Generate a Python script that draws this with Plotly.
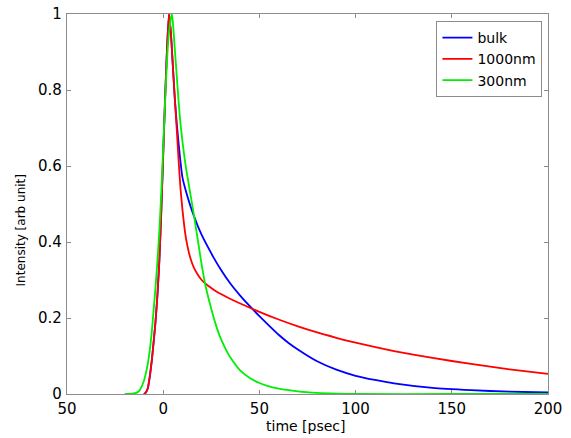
import plotly.graph_objects as go

# time [psec] and normalised intensity
bulk_t = [-10, -9, -8, -7, -6, -5, -4, -3, -2, -1, 0, 1, 2, 3, 4, 5, 6, 7, 8, 9,
          10, 12, 14, 16, 18, 20, 23, 26, 30, 35, 40, 45, 50, 55, 60, 65, 70, 80, 90, 100,
          110, 120, 140, 160, 180, 200]
bulk_i = [0, 0.004, 0.015, 0.045, 0.085, 0.135, 0.19, 0.26, 0.35, 0.48,
          0.63, 0.78, 0.91, 1.0, 0.95, 0.865, 0.78, 0.715, 0.66, 0.61,
          0.57, 0.53, 0.497, 0.468, 0.442, 0.419, 0.389, 0.361, 0.327, 0.29,
          0.259, 0.231, 0.205, 0.18, 0.156, 0.135, 0.117, 0.086, 0.064, 0.048,
          0.037, 0.028, 0.016, 0.01, 0.006, 0.004]

red_t = [-10, -9, -8, -7, -6, -5, -4, -3, -2, -1, 0, 1, 2, 3, 4, 5, 6, 7, 8, 9,
         10, 11, 12, 14, 16, 18, 20, 23, 27, 30, 35, 40, 45, 50, 60, 70, 80, 90, 100, 120,
         140, 160, 180, 200]
red_i = [0, 0.004, 0.015, 0.045, 0.085, 0.135, 0.19, 0.26, 0.35, 0.48,
         0.63, 0.78, 0.91, 1.0, 0.95, 0.865, 0.78, 0.70, 0.615, 0.54,
         0.485, 0.44, 0.405, 0.36, 0.332, 0.314, 0.30, 0.286, 0.272, 0.263,
         0.25, 0.238, 0.227, 0.216, 0.196, 0.178, 0.162, 0.148, 0.135, 0.113,
         0.095, 0.079, 0.065, 0.053]

green_t = [-20, -16, -14, -13, -12, -10, -9, -8, -7, -6, -5, -4, -3, -2, -1, 0, 1, 2, 3, 4,
           4.5, 5, 6, 7, 8, 9, 10, 11, 12, 13, 14, 16, 18, 20, 22, 24, 26, 28, 30, 33,
           36, 40, 45, 50, 55, 60, 70, 80, 90, 100, 150, 200]
green_i = [0, 0.001, 0.003, 0.006, 0.012, 0.035, 0.055, 0.08, 0.114, 0.16,
           0.22, 0.28, 0.35, 0.43, 0.53, 0.65, 0.77, 0.88, 0.95, 0.99,
           1.0, 0.98, 0.91, 0.84, 0.77, 0.71, 0.665, 0.625, 0.59, 0.56,
           0.53, 0.47, 0.405, 0.34, 0.285, 0.243, 0.205, 0.172, 0.145, 0.113,
           0.088, 0.062, 0.042, 0.029, 0.02, 0.014, 0.007, 0.003, 0.001, 0, 0, 0]

series_names = ["bulk", "1000nm", "300nm"]
series_colors = ["#0000ff", "#ff0000", "#00ee00"]

x_tickvals = [-50, 0, 50, 100, 150, 200]
x_ticktext = ["50", "0", "50", "100", "150", "200"]
y_tickvals = [0, 0.2, 0.4, 0.6, 0.8, 1]
y_ticktext = ["0", "0.2", "0.4", "0.6", "0.8", "1"]

x_title = "time [psec]"
y_title = "Intensity [arb unit]"

FONT = "DejaVu Sans"

fig = go.Figure()
for t, v, n, c in zip([bulk_t, red_t, green_t], [bulk_i, red_i, green_i], series_names, series_colors):
    fig.add_trace(go.Scatter(x=t, y=v, name=n, mode="lines",
                             line=dict(color=c, width=1.8, shape="spline", smoothing=0.5)))

axis_common = dict(showline=True, linecolor="#8c8c8c", linewidth=1.2, mirror="ticks",
                   ticks="inside", ticklen=4, tickcolor="#8c8c8c", showgrid=False,
                   zeroline=False, automargin=False,
                   tickfont=dict(family=FONT, size=15, color="black"))

fig.update_xaxes(range=[-50, 200], tickvals=x_tickvals, ticktext=x_ticktext,
                 ticklabelstandoff=1, **axis_common)
fig.update_yaxes(range=[0, 1], tickvals=y_tickvals, ticktext=y_ticktext,
                 ticklabelstandoff=1, **axis_common)

fig.add_annotation(text=x_title, xref="paper", yref="paper", x=0.497, y=-0.085,
                   xanchor="center", yanchor="middle", showarrow=False,
                   font=dict(family=FONT, size=14, color="black"))
fig.add_annotation(text=y_title, xref="paper", yref="paper", x=-0.096, y=0.43,
                   xanchor="center", yanchor="middle", showarrow=False, textangle=-90,
                   font=dict(family=FONT, size=12, color="black"))

fig.update_layout(
    width=571, height=438,
    margin=dict(l=67, r=23, t=14, b=44, pad=0),
    plot_bgcolor="white", paper_bgcolor="white",
    legend=dict(x=0.988, y=0.982, xanchor="right", yanchor="top",
                bgcolor="white", bordercolor="#8c8c8c", borderwidth=1.2,
                font=dict(family=FONT, size=14, color="black"),
                itemwidth=30),
    showlegend=True,
)

fig.write_html("out.html")
